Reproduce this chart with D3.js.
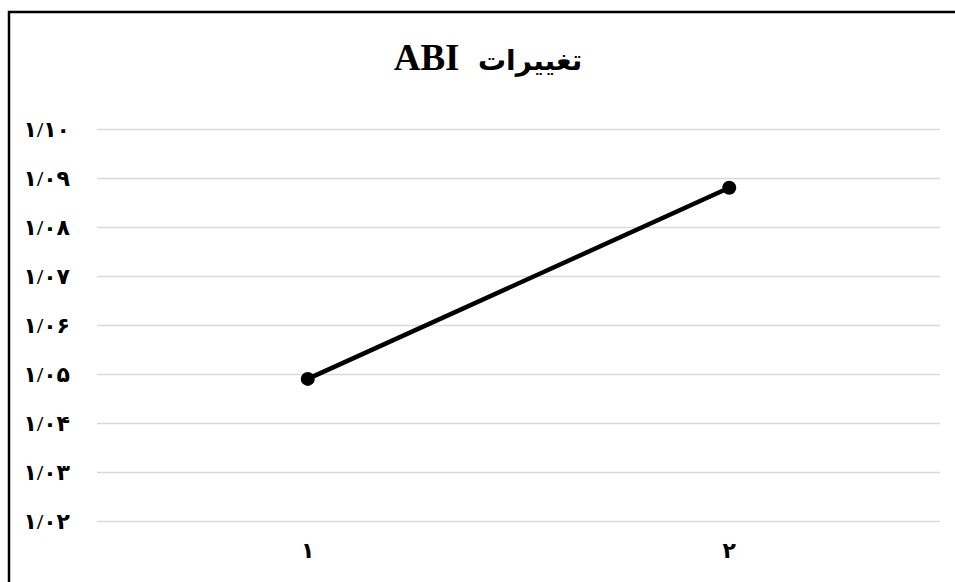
<!DOCTYPE html>
<html><head><meta charset="utf-8">
<script src="https://cdn.jsdelivr.net/npm/d3@7"></script>
<style>
html,body{margin:0;padding:0;background:#fff;overflow:hidden;}
svg{display:block;}
</style></head>
<body>
<script>
const categories = ["1", "2"];
const values = [1.049, 1.088];
const yTicks = [1.02, 1.03, 1.04, 1.05, 1.06, 1.07, 1.08, 1.09, 1.10];
const titleWord = "تغییرات";
const titleCode = "ABI";

const W = 955, H = 582;
const fa = s => s.replace(/[0-9]/g, d => "۰۱۲۳۴۵۶۷۸۹"[+d]);
const fmtY = v => fa(v.toFixed(2).replace(".", "/"));

const svg = d3.select("body").append("svg").attr("width", W).attr("height", H);

// outer frame
svg.append("rect").attr("x", 9).attr("y", 12).attr("width", 1000).attr("height", 1000)
  .attr("fill", "none").attr("stroke", "#000").attr("stroke-width", 2.5);

const x = d3.scaleBand().domain(categories).range([97, 940]);
const y = d3.scaleLinear().domain([1.02, 1.10]).range([521, 129]);

const lblFont = "'Liberation Serif','DejaVu Sans',serif";

// gridlines + y labels
const yAxis = d3.axisLeft(y).tickValues(yTicks).tickSize(-(940 - 97)).tickFormat(fmtY).tickPadding(27);
const gy = svg.append("g").attr("transform", "translate(97,0)").call(yAxis);
gy.select(".domain").remove();
gy.selectAll(".tick line").attr("stroke", "#d9d9d9").attr("stroke-width", 1.5);
gy.selectAll(".tick text").attr("fill", "#000")
  .style("font-family", lblFont).style("font-size", "22px").style("font-weight", "bold");

// x axis labels
const xAxis = d3.axisBottom(x).tickSize(0).tickFormat(fa).tickPadding(21);
const gx = svg.append("g").attr("transform", "translate(0,521)").call(xAxis);
gx.select(".domain").remove();
gx.selectAll(".tick text").attr("fill", "#000")
  .style("font-family", lblFont).style("font-size", "22px").style("font-weight", "bold");

// line
const pts = categories.map((c, i) => ({c, v: values[i]}));
const line = d3.line().x(d => x(d.c) + x.bandwidth() / 2).y(d => y(d.v));
svg.append("path").datum(pts).attr("d", line)
  .attr("fill", "none").attr("stroke", "#000").attr("stroke-width", 4.5).attr("stroke-linecap", "round");
svg.selectAll("circle.pt").data(pts).enter().append("circle")
  .attr("cx", d => x(d.c) + x.bandwidth() / 2).attr("cy", d => y(d.v)).attr("r", 7).attr("fill", "#000");

// title
const t = svg.append("text").attr("x", 488).attr("y", 70).attr("text-anchor", "middle")
  .attr("direction", "rtl").style("white-space", "pre")
  .style("font-family", lblFont).style("font-weight", "bold").attr("fill", "#000");
t.append("tspan").style("font-size", "28px").text(titleWord);
t.append("tspan").style("font-size", "37px").text("  " + titleCode);
</script>
</body></html>
